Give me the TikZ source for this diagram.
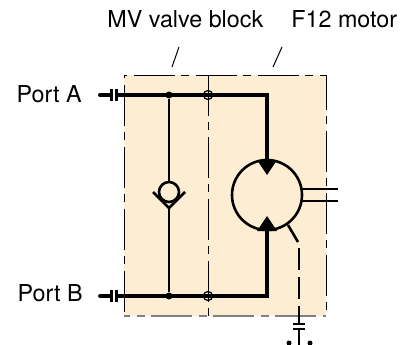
\documentclass[tikz,border=0pt]{standalone}
\usepackage{fontspec}
\setmainfont{TeX Gyre Heros}
\usetikzlibrary{arrows}
\definecolor{blockfill}{HTML}{FDEED3}

\begin{document}
\begin{tikzpicture}[x=1pt,y=-1pt,thick,line cap=butt,
main line/.style={line width=4pt},
pilot line/.style={line width=2.6pt},
shaft line/.style={line width=2pt},
thin line/.style={line width=1pt},
border/.style={line width=1pt,dash pattern=on 41pt off 6pt on 8pt off 7pt,dash phase=52pt},
label node/.style={inner sep=0pt,font=\fontsize{23.3}{26}\selectfont},
main node/.style={circle,draw,inner sep=0pt,fill=blockfill}]

    \useasboundingbox (0,0) rectangle (404,345);

    % housing
    \fill[blockfill] (124,75) rectangle (326,316);
    \coordinate (TL) at (124,75); \coordinate (TR) at (326,75);
    \coordinate (BL) at (124,316); \coordinate (BR) at (326,316);
    \coordinate (DT) at (208,75); \coordinate (DB) at (208,316);
    \draw[border] (TL) -- (TR) -- (BR);
    \draw[border] (TL) -- (BL);
    \draw[border,gray,line width=1.3pt] (BR) -- (BL);
    \draw[border,dash phase=0pt] (DT) -- (DB);

    % labels
    \node[label node,anchor=base west] (MV) at (107,28) {MV valve block};
    \node[label node,anchor=base west] (F12) at (291,28) {F12 motor};
    \node[label node,anchor=base east] (PA) at (82,102) {Port A};
    \node[label node,anchor=base east] (PB) at (83,301) {Port B};
    \coordinate (MVa) at (172,67); \coordinate (MVb) at (179,47);
    \coordinate (Fa) at (273,67); \coordinate (Fb) at (282,47);
    \draw[thin line] (MVa) -- (MVb);
    \draw[thin line] (Fa) -- (Fb);

    % port couplings
    \coordinate (A0) at (100,95); \coordinate (A1) at (111,95); \coordinate (A2) at (116,95);
    \coordinate (B0) at (100,296); \coordinate (B1) at (111,296); \coordinate (B2) at (116,296);
    \coordinate (AT) at (111,89); \coordinate (AU) at (111,101);
    \coordinate (AV) at (116.5,89); \coordinate (AW) at (116.5,101);
    \coordinate (BT) at (111,290); \coordinate (BU) at (111,302);
    \coordinate (BV) at (116.5,290); \coordinate (BW) at (116.5,302);
    \draw[main line,line cap=round] (A0) -- (A1);
    \draw[main line,line cap=round] (B0) -- (B1);
    \draw[line width=3pt] (AT) -- (AU); \draw[line width=3pt] (AV) -- (AW);
    \draw[line width=3pt] (BT) -- (BU); \draw[line width=3pt] (BV) -- (BW);

    % main lines
    \node[main node,line width=2.6pt,minimum size=70pt] (M) at (267,195) {};
    \coordinate (AC) at (267,95); \coordinate (BC) at (267,296);
    \draw[main line,line join=miter] (A2) -- (AC) -- (M.north);
    \draw[main line,line join=miter] (B2) -- (BC) -- (M.south);

    % motor ports
    \coordinate (MaL) at (257,160); \coordinate (MaR) at (277,160); \coordinate (MaT) at (267,175);
    \coordinate (MbL) at (257,231); \coordinate (MbR) at (277,231); \coordinate (MbT) at (267,216);
    \fill (MaL) -- (MaR) -- (MaT) -- cycle;
    \fill (MbL) -- (MbR) -- (MbT) -- cycle;
    \coordinate (S1a) at (302,189); \coordinate (S1b) at (338,189);
    \coordinate (S2a) at (302,201); \coordinate (S2b) at (338,201);
    \draw[shaft line] (S1a) -- (S1b);
    \draw[shaft line] (S2a) -- (S2b);

    % check valve and junctions
    \node[circle,fill,inner sep=0pt,minimum size=7pt] (JA) at (169,95) {};
    \node[circle,fill,inner sep=0pt,minimum size=7pt] (JB) at (169,296) {};
    \node[circle,draw,line width=1.3pt,inner sep=0pt,minimum size=9pt] (XA) at (208,95) {};
    \node[circle,draw,line width=1.3pt,inner sep=0pt,minimum size=9pt] (XB) at (208,296) {};
    \node[main node,line width=2.6pt,minimum size=20pt] (CV) at (169,192) {};
    \coordinate (VL) at (153,192); \coordinate (VA) at (169,208); \coordinate (VR) at (185,192);
    \draw[pilot line] (JA) -- (CV);
    \draw[pilot line] (VA) -- (JB);
    \draw[pilot line] (VL) -- (VA) -- (VR);

    % drain
    \coordinate (D0) at (288,225); \coordinate (D1) at (298,242);
    \coordinate (D2) at (299,248); \coordinate (D3) at (299,324);
    \coordinate (P1a) at (293,324); \coordinate (P1b) at (305,324);
    \coordinate (P2a) at (293,329); \coordinate (P2b) at (305,329);
    \coordinate (D4) at (299,329); \coordinate (D5) at (299,345);
    \draw[pilot line] (D0) -- (D1);
    \draw[pilot line,dash pattern=on 22pt off 7pt] (D2) -- (D3);
    \draw[shaft line] (P1a) -- (P1b);
    \draw[shaft line] (P2a) -- (P2b);
    \draw[pilot line] (D4) -- (D5);
    \node[circle,fill,inner sep=0pt,minimum size=5pt] (G1) at (289,343) {};
    \node[circle,fill,inner sep=0pt,minimum size=5pt] (G2) at (310,343) {};
\end{tikzpicture}
\end{document}
